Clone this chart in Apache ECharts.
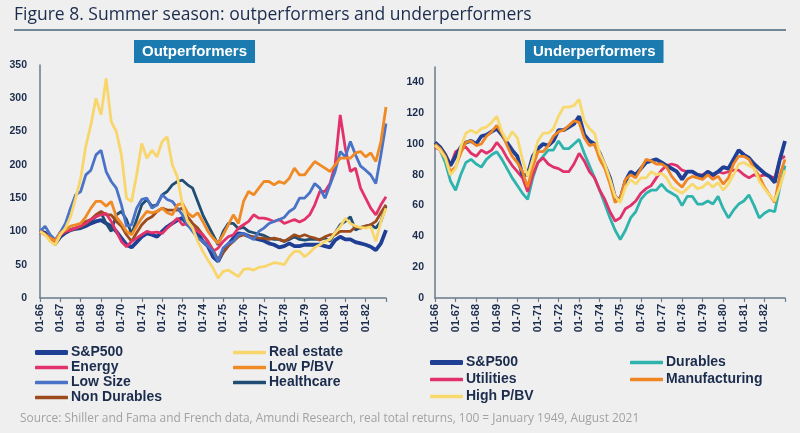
<!DOCTYPE html>
<html>
<head>
<meta charset="utf-8">
<script src="https://cdn.jsdelivr.net/npm/echarts@6/dist/echarts.min.js"></script>
<style>
html,body{margin:0;padding:0;background:#efefef;}
#chart{width:800px;height:433px;}
</style>
</head>
<body>
<div id="chart"></div>
<script>
// Quarterly observations, Jan 1966 .. Jan 1983
const years = ['66','67','68','69','70','71','72','73','74','75','76','77','78','79','80','81','82','83'];
const months = ['01','04','07','10'];

// Outperformers
const sp500Out    = [100,98,88,82,92,98,102,104,105,108,112,115,117,112,108,100,90,80,76,84,92,97,95,92,100,107,112,117,120,110,105,98,85,78,62,55,70,80,90,97,96,93,90,88,86,82,80,76,78,82,78,78,80,80,80,80,78,76,87,92,88,88,84,82,80,77,72,82,102];
const realEstate  = [100,95,85,80,95,105,122,150,180,228,260,300,275,330,265,250,215,150,145,185,232,210,222,212,235,242,200,182,140,115,105,85,70,57,45,30,40,42,37,32,43,44,42,46,47,50,53,52,50,62,70,70,62,68,76,80,85,88,98,107,120,112,108,106,105,107,85,115,135];
const energy      = [100,95,90,86,95,100,102,105,108,112,118,122,125,127,115,100,85,77,85,90,95,100,98,99,97,105,112,120,110,112,105,100,95,85,70,75,85,92,95,105,110,115,125,120,120,118,115,118,112,115,118,114,118,125,140,160,160,172,200,275,225,190,195,165,150,135,125,140,152];
const lowPBV      = [100,95,90,86,98,102,108,110,112,122,135,145,145,138,145,122,112,100,95,108,120,130,128,130,135,128,125,140,142,128,122,128,115,100,90,82,95,110,125,112,145,160,155,165,175,175,170,175,172,180,195,185,185,195,205,200,195,190,200,210,210,210,218,220,212,218,205,235,287];
const lowSize     = [100,108,95,87,99,112,135,155,160,185,192,215,222,190,175,165,140,108,110,135,148,150,135,140,155,148,145,135,125,110,100,90,85,78,70,55,75,82,85,95,97,92,88,100,105,112,115,118,121,130,135,150,150,158,172,165,150,170,190,220,212,235,215,198,192,185,172,215,262];
const healthcare  = [100,96,90,86,97,100,103,104,106,110,115,122,128,112,100,125,130,118,96,118,140,148,138,140,155,160,170,175,177,170,165,145,125,110,95,80,100,112,112,104,106,100,98,96,94,90,88,88,85,88,92,88,87,88,88,88,90,85,98,110,115,122,102,106,108,110,105,115,138];
const nonDurables = [100,96,88,80,95,100,102,105,108,115,118,125,130,125,125,115,108,95,85,98,110,118,122,130,135,132,132,132,135,122,112,105,95,85,72,57,68,78,85,92,95,92,92,90,90,88,90,88,85,90,95,92,95,92,90,87,92,95,95,100,100,100,107,105,108,110,115,128,140];

// Underperformers
const sp500Under    = [101,98,93,86,92,98,101,102,100,105,106,108,110,106,101,96,92,80,80,92,97,100,99,102,109,109,111,113,118,106,102,100,94,86,78,65,64,76,82,80,84,88,89,90,88,86,84,82,77,82,82,80,79,82,80,82,85,84,90,96,93,91,87,84,81,79,75,90,102];
const durables      = [99,96,88,76,70,80,88,90,87,85,90,93,95,90,84,78,73,68,64,78,88,92,96,96,102,97,97,100,103,94,86,78,70,61,52,44,38,44,52,56,64,68,70,70,74,70,68,66,60,66,66,61,61,63,61,66,58,52,57,61,63,67,60,52,55,57,56,72,86];
const utilities     = [98,96,91,86,95,97,98,94,92,96,94,96,101,97,91,86,82,78,69,80,88,91,87,85,84,82,82,87,94,89,82,78,70,64,56,50,52,58,60,63,68,71,73,78,83,86,87,86,83,82,82,80,80,82,79,82,81,82,83,83,80,78,80,79,80,79,78,90,92];
const manufacturing = [100,97,92,82,85,94,101,102,99,100,105,108,112,107,99,92,88,82,72,85,95,95,99,105,108,109,112,115,114,104,99,100,90,84,74,62,65,77,80,78,84,90,89,87,87,85,79,75,72,77,79,78,77,80,77,79,74,78,87,92,92,90,84,79,72,67,62,80,90];
const highPBV       = [99,96,91,80,84,98,107,109,107,110,111,114,118,108,102,108,104,90,79,90,102,107,107,110,118,124,124,125,129,115,110,107,94,87,77,66,62,72,77,74,78,78,82,80,81,78,72,70,68,71,74,71,72,75,72,75,70,74,80,87,88,86,84,76,71,67,63,72,83];

const categories = [];
years.forEach(function (y, i) {
  months.forEach(function (m) {
    if (i < years.length - 1 || m === '01') categories.push(m + '-' + y);
  });
});

const colors = {
  'S&P500': '#1f3f94', 'Real estate': '#f8d66c', 'Energy': '#e3326b', 'Low P/BV': '#f08a24',
  'Low Size': '#4a72c6', 'Healthcare': '#1f4d73', 'Non Durables': '#9c4b1d',
  'Durables': '#2fb3ad', 'Utilities': '#e0316a', 'Manufacturing': '#ef8523', 'High P/BV': '#f7d96d'
};

const navy = '#1b2c4d';
const axisCol = '#6a7b8b';
const sans = "'Liberation Sans',Arial,sans-serif";

function mkSeries(name, data, idx, width) {
  return {
    name: name, type: 'line', data: data, xAxisIndex: idx, yAxisIndex: idx,
    symbol: 'none', showSymbol: false, smooth: false,
    lineStyle: { color: colors[name], width: width || 2.8 },
    itemStyle: { color: colors[name] },
    emphasis: { disabled: true }
  };
}

function mkXAxis(idx) {
  return {
    type: 'category', gridIndex: idx, data: categories, boundaryGap: false,
    axisLine: { show: true, lineStyle: { color: axisCol, width: 1.5 } },
    axisTick: { show: true, length: 4, interval: function (i) { return i % 4 === 0; }, lineStyle: { color: axisCol, width: 1.2 } },
    axisLabel: {
      interval: function (i) { return i % 4 === 0 && i < categories.length - 1; },
      rotate: 90, margin: 6, fontSize: 11, fontWeight: 'bold', color: navy, fontFamily: sans
    },
    splitLine: { show: false }
  };
}

function mkYAxis(idx, max, interval, margin) {
  return {
    type: 'value', gridIndex: idx, min: 0, max: max, interval: interval,
    axisLine: { show: true, lineStyle: { color: axisCol, width: 1.5 } },
    axisTick: { show: false },
    splitLine: { show: false },
    axisLabel: { showMaxLabel: max % interval === 0, margin: margin, fontSize: 10.5, fontWeight: 'bold', color: navy, fontFamily: sans }
  };
}

function mkLegend(names, left, top, lh, itemH) {
  return {
    data: names, left: left, top: top, orient: 'vertical', padding: 0, itemGap: 0,
    itemWidth: 33, itemHeight: itemH, icon: 'roundRect', selectedMode: false,
    textStyle: { fontSize: 14, fontWeight: 'bold', color: navy, fontFamily: sans, lineHeight: lh, padding: [0, 0, 0, -2] }
  };
}

const chart = echarts.init(document.getElementById('chart'), null, { renderer: 'canvas' });
chart.setOption({
  backgroundColor: '#efefef',
  animation: false,
  title: [
    { text: 'Figure 8. Summer season: outperformers and underperformers', left: 14, top: 6, padding: 0,
      textStyle: { fontSize: 17.5, fontWeight: 'normal', color: navy, fontFamily: "'Open Sans',sans-serif" } },
    { text: 'Outperformers', left: 134, top: 40, padding: [3, 8, 3, 8], backgroundColor: '#1b7bb0',
      textStyle: { fontSize: 15, fontWeight: 'bold', color: '#ffffff', fontFamily: sans, lineHeight: 17 } },
    { text: 'Underperformers', left: 525, top: 40, padding: [3, 8, 3, 8], backgroundColor: '#1b7bb0',
      textStyle: { fontSize: 15, fontWeight: 'bold', color: '#ffffff', fontFamily: sans, lineHeight: 17 } }
  ],
  graphic: [
    { type: 'rect', shape: { x: 14, y: 29, width: 772, height: 2 }, style: { fill: '#6f8797' }, silent: true },
    { type: 'text', left: 20, top: 413, silent: true,
      style: { text: 'Source: Shiller and Fama and French data, Amundi Research, real total returns, 100 = January 1949, August 2021',
               fontSize: 11.9, fill: '#a2a2a2', fontFamily: "'Open Sans',sans-serif" } }
  ],
  legend: [
    mkLegend(['S&P500'], 35, 345, 15, 5),
    mkLegend(['Energy', 'Low Size', 'Non Durables'], 35, 360, 15, 3.5),
    mkLegend(['Real estate', 'Low P/BV', 'Healthcare'], 233, 345, 15, 3.5),
    mkLegend(['S&P500'], 430, 354, 17, 5),
    mkLegend(['Utilities', 'High P/BV'], 430, 371, 17, 3.5),
    mkLegend(['Durables', 'Manufacturing'], 630, 354, 17, 3.5)
  ],
  grid: [
    { left: 40, right: 414, top: 65, bottom: 135, containLabel: false },
    { left: 435, right: 15, top: 67, bottom: 135, containLabel: false }
  ],
  xAxis: [mkXAxis(0), mkXAxis(1)],
  yAxis: [mkYAxis(0, 350, 50, 13), mkYAxis(1, 150, 20, 11)],
  series: [
    mkSeries('S&P500', sp500Out, 0, 3.8),
    mkSeries('Healthcare', healthcare, 0),
    mkSeries('Non Durables', nonDurables, 0),
    mkSeries('Energy', energy, 0),
    mkSeries('Low Size', lowSize, 0),
    mkSeries('Low P/BV', lowPBV, 0),
    mkSeries('Real estate', realEstate, 0),
    mkSeries('Durables', durables, 1),
    mkSeries('Utilities', utilities, 1),
    mkSeries('S&P500', sp500Under, 1, 3.8),
    mkSeries('Manufacturing', manufacturing, 1),
    mkSeries('High P/BV', highPBV, 1)
  ]
});
</script>
</body>
</html>
